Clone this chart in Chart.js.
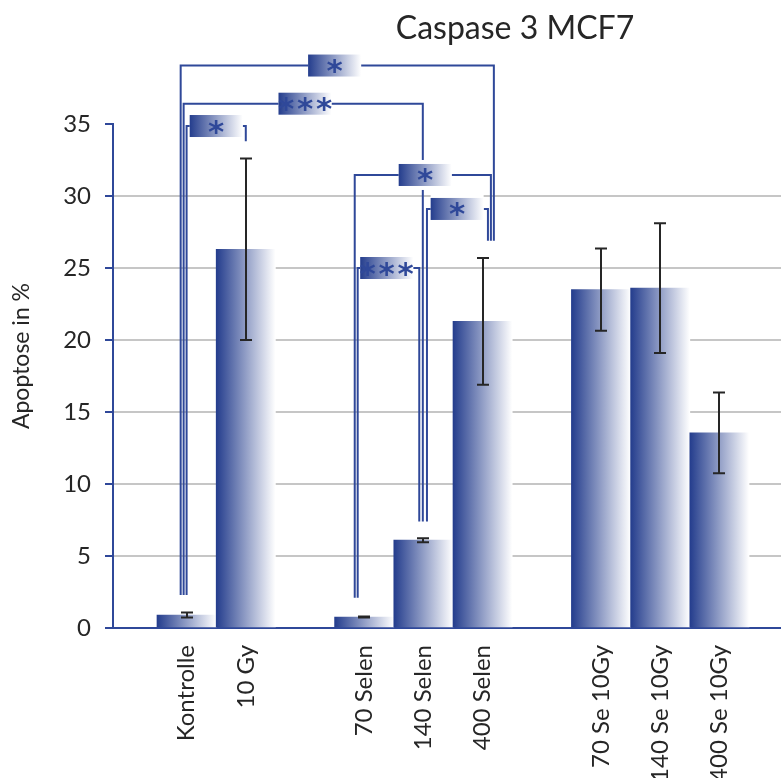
<!DOCTYPE html>
<html lang="de">
<head>
<meta charset="UTF-8">
<title>Caspase 3 MCF7</title>
<script src="https://cdn.jsdelivr.net/npm/chart.js"></script>
<style>
    html, body { margin: 0; padding: 0; background: #fff; }
    #wrap { width: 781px; height: 778px; position: relative; }
</style>
</head>
<body>
<div id="wrap"><canvas id="chart"></canvas></div>
<script>
// Kategorien und ihre Lage auf der x-Achse (Lücken zwischen den Gruppen)
const labels = ['Kontrolle', '10 Gy', '70 Selen', '140 Selen', '400 Selen', '70 Se 10Gy', '140 Se 10Gy', '400 Se 10Gy'];
const xPos = [1, 2, 4, 5, 6, 8, 9, 10];
// Mittelwerte und Fehler (Apoptose in %)
const means = [0.9, 26.3, 0.76, 6.1, 21.3, 23.5, 23.6, 13.55];
const errors = [0.17, 6.3, 0.03, 0.14, 4.4, 2.85, 4.5, 2.8];
const yTicks = [0, 5, 10, 15, 20, 25, 30, 35];

// Signifikanz-Klammern
const brX1 = [0.90, 0.95, 1.00, 3.84, 5.06, 3.89];
const brX2 = [6.19, 4.99, 2.00, 6.14, 6.09, 4.93];
const brTop = [39.06, 36.41, 34.86, 31.46, 29.1, 25.0];
const brEnd1 = [2.3, 2.3, 2.3, 2.1, 7.4, 2.1];
const brEnd2 = [26.9, 7.4, 33.8, 26.9, 26.9, 7.4];
const brStars = [1, 3, 1, 1, 1, 3];
const brBox = [3.50, 3.00, 1.50, 5.03, 5.57, 4.38];

const BLUE = '#2f4899';
const DARK = '#243d8d';
const TEXT = '#262626';
const FONT = 'Lato';

function hGradient(ctx, l, r) {
    const g = ctx.createLinearGradient(l, 0, r, 0);
    g.addColorStop(0, DARK);
    g.addColorStop(1, '#ffffff');
    return g;
}

// Balkenfarbe: Verlauf von dunkelblau nach weiß
function barColor(c) {
    if (c.type !== 'data') return DARK;
    const xs = c.chart.scales.x;
    if (!xs) return DARK;
    const v = xPos[c.dataIndex];
    const l = xs.getPixelForValue(v - 0.5);
    const r = xs.getPixelForValue(v + 0.5);
    if (!isFinite(l) || !isFinite(r) || l === r) return DARK;
    return hGradient(c.chart.ctx, l, r);
}

const annot = {
    id: 'annot',
    afterDatasetsDraw(chart) {
        const { ctx, scales: { x, y } } = chart;
        ctx.save();

        // Fehlerbalken
        ctx.strokeStyle = TEXT;
        ctx.lineWidth = 2;
        means.forEach((m, i) => {
            const px = Math.round(x.getPixelForValue(xPos[i]));
            const top = y.getPixelForValue(m + errors[i]);
            const bot = y.getPixelForValue(m - errors[i]);
            ctx.beginPath();
            ctx.moveTo(px, top); ctx.lineTo(px, bot);
            ctx.moveTo(px - 6, top); ctx.lineTo(px + 6, top);
            ctx.moveTo(px - 6, bot); ctx.lineTo(px + 6, bot);
            ctx.stroke();
        });

        // Klammern
        ctx.strokeStyle = BLUE;
        ctx.lineWidth = 2;
        brStars.forEach((n, i) => {
            const x1 = x.getPixelForValue(brX1[i]);
            const x2 = x.getPixelForValue(brX2[i]);
            const yt = y.getPixelForValue(brTop[i]);
            ctx.beginPath();
            ctx.moveTo(x1, y.getPixelForValue(brEnd1[i]));
            ctx.lineTo(x1, yt);
            ctx.lineTo(x2, yt);
            ctx.lineTo(x2, y.getPixelForValue(brEnd2[i]));
            ctx.stroke();
        });

        // Kästen mit Sternchen
        const w = 53, h = 22;
        ctx.font = 'bold 31px "DejaVu Sans"';
        ctx.textAlign = 'center';
        ctx.textBaseline = 'alphabetic';
        const m = ctx.measureText('*');
        const dy = (m.actualBoundingBoxAscent - m.actualBoundingBoxDescent) / 2;
        brStars.forEach((n, i) => {
            const cx = x.getPixelForValue(brBox[i]);
            const cy = y.getPixelForValue(brTop[i]);
            ctx.fillStyle = '#fff';
            ctx.fillRect(cx - w / 2, cy - h / 2 - 4, w, h + 8);
            ctx.fillStyle = hGradient(ctx, cx - w / 2, cx + w / 2);
            ctx.fillRect(cx - w / 2, cy - h / 2, w, h);
            ctx.fillStyle = BLUE;
            for (let k = 0; k < n; k++) {
                const sx = cx + (k - (n - 1) / 2) * 19;
                ctx.fillText('*', sx, cy + 1 + dy);
            }
        });
        ctx.restore();
    },
    afterDraw(chart) {
        const ctx = chart.ctx;
        ctx.save();
        ctx.fillStyle = TEXT;
        ctx.textAlign = 'center';
        ctx.textBaseline = 'middle';
        ctx.font = '32px ' + FONT;
        ctx.fillText('Caspase 3 MCF7', 515, 29);
        ctx.translate(22, 356);
        ctx.rotate(-Math.PI / 2);
        ctx.font = '23px ' + FONT;
        ctx.fillText('Apoptose in %', 0, 0);
        ctx.restore();
    }
};

new Chart(document.getElementById('chart'), {
    type: 'bar',
    data: {
        datasets: [{
            data: xPos.map((v, i) => ({ x: v, y: means[i] })),
            backgroundColor: barColor,
            borderWidth: 0,
            barPercentage: 1,
            categoryPercentage: 1
        }]
    },
    options: {
        responsive: true,
        maintainAspectRatio: false,
        animation: false,
        layout: { padding: { top: 124, left: 0, right: 0, bottom: 0 } },
        plugins: {
            legend: { display: false },
            tooltip: { enabled: false },
            title: { display: false }
        },
        scales: {
            x: {
                type: 'linear',
                min: -0.243,
                max: 11.04,
                offset: false,
                grid: { display: false, drawTicks: false },
                border: { display: true, color: BLUE, width: 2 },
                afterBuildTicks: s => { s.ticks = xPos.map(v => ({ value: v })); },
                afterFit: s => { s.height = 150; },
                ticks: {
                    autoSkip: false,
                    minRotation: 90,
                    maxRotation: 90,
                    padding: 17,
                    color: TEXT,
                    font: { family: FONT, size: 24 },
                    callback: (v, i) => labels[i]
                }
            },
            y: {
                min: 0,
                max: 35,
                afterBuildTicks: s => { s.ticks = yTicks.map(v => ({ value: v })); },
                afterFit: s => { s.width = 113; },
                grid: {
                    color: c => (c.tick && (c.tick.value === 0 || c.tick.value === 35)) ? 'rgba(0,0,0,0)' : '#c6c6c6',
                    lineWidth: 2,
                    tickLength: 8,
                    tickColor: BLUE,
                    tickWidth: 2
                },
                border: { display: true, color: BLUE, width: 2 },
                ticks: { padding: 14, color: TEXT, font: { family: FONT, size: 24 } }
            }
        }
    },
    plugins: [annot]
});
</script>
</body>
</html>
